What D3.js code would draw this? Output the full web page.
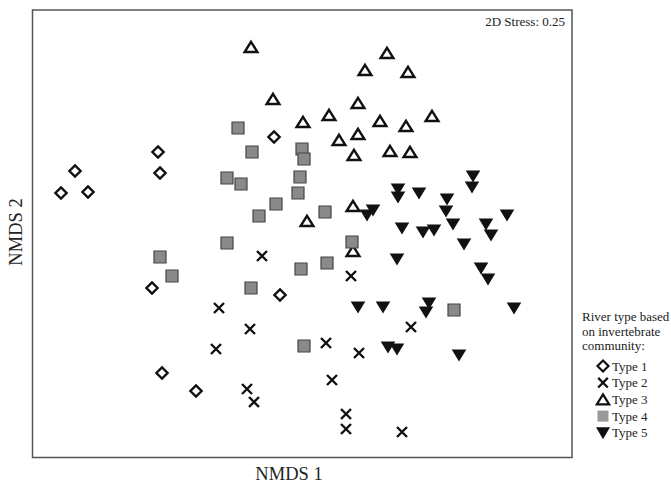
<!DOCTYPE html>
<html>
<head>
<meta charset="utf-8">
<script src="https://cdn.jsdelivr.net/npm/d3@7"></script>
<style>
  html, body { margin: 0; padding: 0; background: #fff; }
  svg { display: block; }
  text { font-family: "Liberation Serif", "Times New Roman", serif; fill: #222; }
</style>
</head>
<body>
<svg id="chart" width="671" height="484"></svg>
<script>
// NMDS ordination scores (in plot units)
const type1 = [[75,171],[61,193],[88,192],[158,152],[160,173],[274,137],[152,288],[280,295],[162,373],[196,391]];
const type2 = [[262,256],[351,276],[219,308],[250,329],[216,349],[411,327],[326,343],[359,353],[332,380],[247,389],[254,402],[346,414],[346,429],[402,432]];
const type3 = [[251,47],[387,53],[365,70],[408,72],[273,99],[358,103],[303,122],[329,115],[380,121],[406,126],[432,116],[358,134],[339,140],[354,155],[390,151],[410,152],[353,206],[307,221],[353,251]];
const type4 = [[238,128],[252,152],[302,149],[304,159],[227,178],[241,184],[300,177],[298,193],[276,204],[259,216],[325,212],[227,243],[160,257],[172,276],[301,269],[327,263],[251,288],[352,242],[454,310],[304,346]];
const type5 = [[473,176],[472,187],[398,189],[398,197],[419,193],[447,199],[446,211],[507,215],[373,210],[367,215],[402,228],[423,232],[434,230],[453,224],[486,224],[491,235],[464,244],[397,259],[481,268],[488,279],[358,307],[383,307],[429,303],[426,312],[514,308],[388,347],[397,349],[459,355]];
const typeNames = ["Type 1","Type 2","Type 3","Type 4","Type 5"];
const legendTitle = ["River type based","on invertebrate","community:"];
const stressLabel = "2D Stress: 0.25";
const xLabel = "NMDS 1";
const yLabel = "NMDS 2";

const svg = d3.select("#chart");
const box = {left: 32.5, top: 10, right: 572, bottom: 457.5};
const x = d3.scaleLinear().domain([32.5, 572]).range([box.left, box.right]);
const y = d3.scaleLinear().domain([10, 457.5]).range([box.top, box.bottom]);

// symbol path generators (centered at 0,0)
const shapes = {
  diamond: "M0,-5.6L5.6,0L0,5.6L-5.6,0Z",
  cross: "M-5,-5L5,5M-5,5L5,-5",
  up: "M0,-5.2L6.4,5L-6.4,5Z",
  square: "M-6,-6H6V6H-6Z",
  down: "M-7.3,-5.6L7.3,-5.6L0,6.6Z"
};
const styles = [
  {d: shapes.diamond, fill: "#fff", stroke: "#111", sw: 2.4},
  {d: shapes.cross, fill: "none", stroke: "#111", sw: 2.4},
  {d: shapes.up, fill: "#fff", stroke: "#111", sw: 2.4},
  {d: shapes.square, fill: "#8a8a8a", stroke: "#444", sw: 1.2},
  {d: shapes.down, fill: "#111", stroke: "none", sw: 0}
];
const series = [type1, type2, type3, type4, type5];

// frame
svg.append("rect")
  .attr("x", box.left).attr("y", box.top)
  .attr("width", box.right - box.left).attr("height", box.bottom - box.top)
  .attr("fill", "none").attr("stroke", "#555").attr("stroke-width", 1.5);

// points
series.forEach((data, i) => {
  const s = styles[i];
  svg.append("g").selectAll("path").data(data).join("path")
    .attr("transform", d => `translate(${x(d[0])},${y(d[1])})`)
    .attr("d", s.d)
    .attr("fill", s.fill).attr("stroke", s.stroke).attr("stroke-width", s.sw)
    .attr("stroke-linejoin", "miter");
});

// stress label
svg.append("text").attr("x", 565).attr("y", 26).attr("text-anchor", "end")
  .attr("font-size", 13).text(stressLabel);

// axis titles
svg.append("text").attr("x", 289).attr("y", 480).attr("text-anchor", "middle")
  .attr("font-size", 18.5).text(xLabel);
svg.append("text").attr("transform", "translate(22,232) rotate(-90)")
  .attr("text-anchor", "middle").attr("font-size", 18.5).text(yLabel);

// legend
const lg = svg.append("g");
lg.selectAll("text.title").data(legendTitle).join("text")
  .attr("class", "title").attr("x", 582).attr("y", (d, i) => 321 + i * 14.5)
  .attr("font-size", 13).text(d => d);
const legendStyles = [
  {d: "M0,-5.5L5.5,0L0,5.5L-5.5,0Z", fill: "#fff", stroke: "#111", sw: 2.2},
  {d: "M-4.8,-4.8L4.8,4.8M-4.8,4.8L4.8,-4.8", fill: "none", stroke: "#111", sw: 2.3},
  {d: "M0,-5L6.2,5L-6.2,5Z", fill: "#fff", stroke: "#111", sw: 2.2},
  {d: "M-5.5,-5.5H5.5V5.5H-5.5Z", fill: "#999", stroke: "none", sw: 0},
  {d: "M-7,-5.5L7,-5.5L0,6.5Z", fill: "#111", stroke: "none", sw: 0}
];
const items = lg.selectAll("g.item").data(typeNames).join("g")
  .attr("class", "item")
  .attr("transform", (d, i) => `translate(603,${366 + i * 16.7})`);
items.append("path")
  .attr("d", (d, i) => legendStyles[i].d)
  .attr("fill", (d, i) => legendStyles[i].fill)
  .attr("stroke", (d, i) => legendStyles[i].stroke)
  .attr("stroke-width", (d, i) => legendStyles[i].sw);
items.append("text").attr("x", 9).attr("y", 4.5).attr("font-size", 13).text(d => d);
</script>
</body>
</html>
